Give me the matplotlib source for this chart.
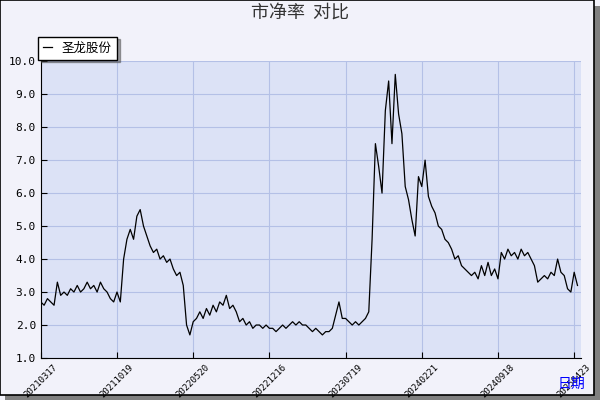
import numpy as np
import matplotlib.pyplot as plt
from matplotlib.patches import Rectangle

plt.rcParams['font.family'] = ['Noto Sans CJK SC', 'DejaVu Sans']

title = "市净率  对比"
series_name = "圣龙股份"
tick_labels = ["20210317", "20211019", "20220520", "20221216",
               "20230719", "20240221", "20240918", "20250423"]
pb = [2.7, 2.6, 2.8, 2.7, 2.6, 3.3, 2.9, 3.0, 2.9, 3.1, 3.0, 3.2, 3.0, 3.1, 3.3,
      3.1, 3.2, 3.0, 3.3, 3.1, 3.0, 2.8, 2.7, 3.0, 2.7, 4.0, 4.6, 4.9, 4.6, 5.3,
      5.5, 5.0, 4.7, 4.4, 4.2, 4.3, 4.0, 4.1, 3.9, 4.0, 3.7, 3.5, 3.6, 3.2, 2.0,
      1.7, 2.1, 2.2, 2.4, 2.2, 2.5, 2.3, 2.6, 2.4, 2.7, 2.6, 2.9, 2.5, 2.6, 2.4,
      2.1, 2.2, 2.0, 2.1, 1.9, 2.0, 2.0, 1.9, 2.0, 1.9, 1.9, 1.8, 1.9, 2.0, 1.9,
      2.0, 2.1, 2.0, 2.1, 2.0, 2.0, 1.9, 1.8, 1.9, 1.8, 1.7, 1.8, 1.8, 1.9, 2.3,
      2.7, 2.2, 2.2, 2.1, 2.0, 2.1, 2.0, 2.1, 2.2, 2.4, 4.6, 7.5, 6.8, 6.0, 8.5,
      9.4, 7.5, 9.6, 8.4, 7.8, 6.2, 5.8, 5.2, 4.7, 6.5, 6.2, 7.0, 5.9, 5.6, 5.4,
      5.0, 4.9, 4.6, 4.5, 4.3, 4.0, 4.1, 3.8, 3.7, 3.6, 3.5, 3.6, 3.4, 3.8, 3.5,
      3.9, 3.5, 3.7, 3.4, 4.2, 4.0, 4.3, 4.1, 4.2, 4.0, 4.3, 4.1, 4.2, 4.0, 3.8,
      3.3, 3.4, 3.5, 3.4, 3.6, 3.5, 4.0, 3.6, 3.5, 3.1, 3.0, 3.6, 3.2]

x = np.arange(len(pb))
n = len(pb) - 1

fig = plt.figure(figsize=(6, 4), dpi=100)
fig.patch.set_facecolor('#F2F2FA')
fig.patches.append(Rectangle((0.008, 0.0), 0.992, 0.985, transform=fig.transFigure,
                             facecolor='#808080', edgecolor='none', zorder=-2))
fig.patches.append(Rectangle((0.0, 0.012), 0.99, 0.988, transform=fig.transFigure,
                             facecolor='#F2F2FA', edgecolor='black', lw=1.2, zorder=-1))

ax = fig.add_axes([0.068, 0.105, 0.9, 0.742])
ax.set_facecolor('#DCE2F6')
ax.plot(x, pb, color='black', lw=0.9)
ax.set_ylim(1.0, 10.0)
ax.set_xlim(0, n + 1)
ax.set_yticks(np.arange(1.0, 10.01, 1.0))
ax.set_yticklabels([f"{v:.1f}" for v in np.arange(1.0, 10.01, 1.0)],
                   fontsize=8, family='DejaVu Sans Mono')
ticks = np.linspace(0, n - 1, len(tick_labels))
ax.set_xticks(ticks)
ax.set_xticklabels(tick_labels, rotation=45, ha='center', fontsize=6.5,
                   family='DejaVu Sans Mono')
ax.grid(color='#B4C0E6', lw=0.8)
for s in ['top', 'right']:
    ax.spines[s].set_visible(False)
ax.tick_params(length=4, direction='in')

fig.text(0.5, 0.955, title, ha='center', fontsize=13, color='#333333')
fig.text(0.975, 0.03, "日期", ha='right', fontsize=10, color='blue')
leg = ax.legend([series_name], loc='lower left', bbox_to_anchor=(-0.005, 1.005),
                fontsize=9, handlelength=0.7, frameon=True, fancybox=False,
                shadow=True, borderaxespad=0)
leg.get_frame().set_edgecolor('black')
fig.savefig('out.png', facecolor=fig.get_facecolor())
